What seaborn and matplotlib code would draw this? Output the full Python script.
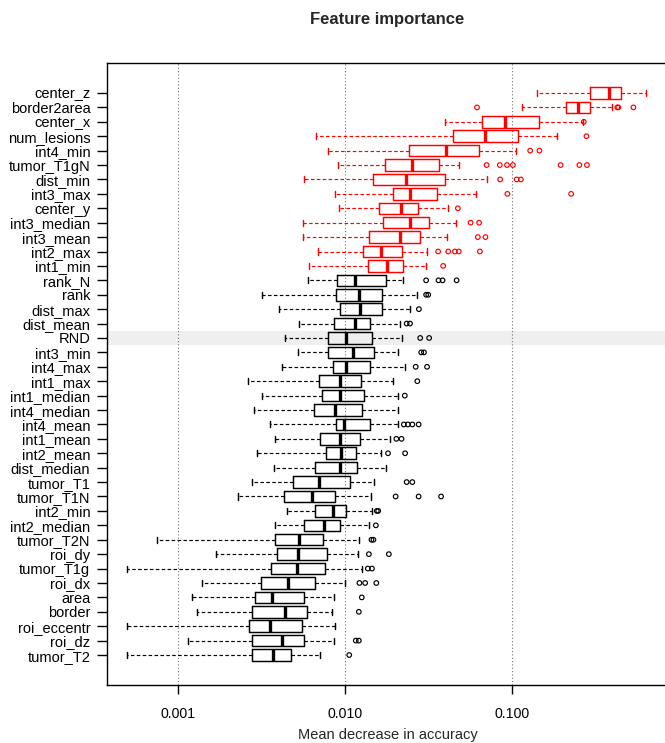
import numpy as np
import pandas as pd
import matplotlib
matplotlib.use("Agg")
import matplotlib.pyplot as plt
from matplotlib.ticker import NullLocator, FixedLocator, FixedFormatter
import seaborn as sns

# ---------------- data ----------------
features = ["center_z", "border2area", "center_x", "num_lesions", "int4_min",
            "tumor_T1gN", "dist_min", "int3_max", "center_y", "int3_median",
            "int3_mean", "int2_max", "int1_min", "rank_N", "rank", "dist_max",
            "dist_mean", "RND", "int3_min", "int4_max", "int1_max", "int1_median",
            "int4_median", "int4_mean", "int1_mean", "int2_mean", "dist_median",
            "tumor_T1", "tumor_T1N", "int2_min", "int2_median", "tumor_T2N",
            "roi_dy", "tumor_T1g", "roi_dx", "area", "border", "roi_eccentr",
            "roi_dz", "tumor_T2"]

n_important = 13  # first 13 features drawn in red

whisk_lo = [0.141, 0.115, 0.0396, 0.00673, 0.00796, 0.00911, 0.00568, 0.00870,
            0.00922, 0.00558, 0.00558, 0.00693, 0.00609, 0.00599, 0.00319, 0.00405,
            0.00527, 0.00435, 0.00524, 0.00422, 0.00262, 0.00317, 0.00284, 0.00358,
            0.00382, 0.00297, 0.00376, 0.00277, 0.00229, 0.00447, 0.00382, 0.000751,
            0.00170, 0.000494, 0.00139, 0.00122, 0.00130, 0.000494, 0.00115, 0.000494]

q1 = [0.294, 0.210, 0.0661, 0.0442, 0.0243, 0.0174, 0.0148, 0.0193, 0.0160, 0.0168,
      0.0139, 0.0128, 0.0138, 0.00895, 0.00885, 0.00938, 0.00865, 0.00796, 0.00796,
      0.00845, 0.00697, 0.00730, 0.00650, 0.00880, 0.00713, 0.00769, 0.00665,
      0.00491, 0.00430, 0.00665, 0.00568, 0.00380, 0.00389, 0.00361, 0.00312,
      0.00289, 0.00277, 0.00266, 0.00279, 0.00276]

median = [0.380, 0.248, 0.0911, 0.0689, 0.0403, 0.0253, 0.0232, 0.0245, 0.0216,
          0.0245, 0.0212, 0.0165, 0.0178, 0.0115, 0.0121, 0.0123, 0.0115, 0.0102,
          0.0112, 0.0102, 0.00927, 0.00927, 0.00870, 0.00988, 0.00927, 0.00943,
          0.00927, 0.00697, 0.00631, 0.00849, 0.00752, 0.00533, 0.00524, 0.00518,
          0.00458, 0.00365, 0.00437, 0.00358, 0.00422, 0.00369]

q3 = [0.447, 0.294, 0.146, 0.1085, 0.0635, 0.0365, 0.0396, 0.0354, 0.0273, 0.0319,
      0.0281, 0.0218, 0.0221, 0.0176, 0.0166, 0.0166, 0.0142, 0.0145, 0.0150, 0.0142,
      0.0125, 0.0130, 0.0126, 0.0142, 0.0123, 0.0117, 0.0118, 0.0107, 0.00870,
      0.0102, 0.00938, 0.00734, 0.00778, 0.00756, 0.00665, 0.00568, 0.00592,
      0.00555, 0.00572, 0.00474]

whisk_hi = [0.635, 0.396, 0.265, 0.187, 0.105, 0.0480, 0.0705, 0.0606, 0.0415,
            0.0461, 0.0410, 0.0310, 0.0306, 0.0222, 0.0268, 0.0245, 0.0212, 0.0220,
            0.0208, 0.0228, 0.0194, 0.0208, 0.0208, 0.0208, 0.0186, 0.0165, 0.0177,
            0.0150, 0.0144, 0.0145, 0.0140, 0.0121, 0.0119, 0.0126, 0.00994, 0.00860,
            0.00840, 0.00870, 0.00855, 0.00705]

outliers = [
    [],                                                    # center_z
    [0.0617, 0.427, 0.433, 0.533],                         # border2area
    [0.269],                                               # center_x
    [0.279],                                               # num_lesions
    [0.1285, 0.146],                                       # int4_min
    [0.0705, 0.0845, 0.0933, 0.1012, 0.1955, 0.253, 0.281],  # tumor_T1gN
    [0.0849, 0.1066, 0.1130],                              # dist_min
    [0.0938, 0.226],                                       # int3_max
    [0.0474],                                              # center_y
    [0.0565, 0.0635],                                      # int3_median
    [0.0624, 0.0693],                                      # int3_mean
    [0.0361, 0.0415, 0.0455, 0.0480, 0.0642],              # int2_max
    [0.0387],                                              # int1_min
    [0.0306, 0.0363, 0.0384, 0.0466],                      # rank_N
    [0.0306, 0.0315],                                      # rank
    [0.0277],                                              # dist_max
    [0.0234, 0.0245],                                      # dist_mean
    [0.0282, 0.0319],                                      # RND
    [0.0286, 0.0297],                                      # int3_min
    [0.0265, 0.0310],                                      # int4_max
    [0.0271],                                              # int1_max
    [0.0228],                                              # int1_median
    [],                                                    # int4_median
    [0.0225, 0.0238, 0.0253, 0.0276],                      # int4_mean
    [0.0203, 0.0218],                                      # int1_mean
    [0.0181, 0.0229],                                      # int2_mean
    [],                                                    # dist_median
    [0.0234, 0.0253],                                      # tumor_T1
    [0.0201, 0.0276, 0.0376],                              # tumor_T1N
    [0.0155, 0.0158],                                      # int2_min
    [0.0153],                                              # int2_median
    [0.0144, 0.0148],                                      # tumor_T2N
    [0.0139, 0.0183],                                      # roi_dy
    [0.0137, 0.0145],                                      # tumor_T1g
    [0.0122, 0.0132, 0.0154],                              # roi_dx
    [0.0126],                                              # area
    [0.0121],                                              # border
    [],                                                    # roi_eccentr
    [0.0116, 0.0121],                                      # roi_dz
    [0.0106],                                              # tumor_T2
]

x_ticks = [0.001, 0.01, 0.1]
x_tick_labels = ["0.001", "0.010", "0.100"]
highlight = "RND"

# ---------------- tidy tables ----------------
groups = ["top" if i < n_important else "rest" for i in range(len(features))]
box_rows = []
for i, f in enumerate(features):
    for v in (whisk_lo[i], q1[i], median[i], q3[i], whisk_hi[i]):
        box_rows.append({"feature": f, "value": v, "group": groups[i]})
box_df = pd.DataFrame(box_rows)

out_rows = []
for i, f in enumerate(features):
    for v in outliers[i]:
        out_rows.append({"feature": f, "value": v, "group": groups[i]})
out_df = pd.DataFrame(out_rows)

palette = {"top": "#ff0000", "rest": "#000000"}

# ---------------- style ----------------
sns.set_style("ticks")
plt.rcParams["font.family"] = ["Liberation Sans", "DejaVu Sans"]
plt.rcParams["axes.linewidth"] = 1.0
plt.rcParams["axes.edgecolor"] = "black"

W, H = 665, 743
fig = plt.figure(figsize=(W / 100, H / 100), dpi=100)
ax = fig.add_axes([107 / W, 58 / H, (669 - 107) / W, 622 / H])
ax.set_xscale("log")

# highlight band for the random feature
ri = features.index(highlight)
ax.axhspan(ri - 0.5, ri + 0.5, color="#efefef", zorder=0, lw=0)

sns.boxplot(
    data=box_df, x="value", y="feature", order=features,
    hue="group", hue_order=["top", "rest"], palette=palette,
    fill=False, whis=(0, 100), showfliers=False, width=0.8,
    linewidth=1.05, legend=False, capwidths=0.42,
    whiskerprops=dict(linestyle=(0, (3, 2)), linewidth=0.85),
    capprops=dict(linewidth=1.05),
    medianprops=dict(linewidth=2.4),
    ax=ax,
)

n_before = len(ax.collections)
sns.stripplot(
    data=out_df, x="value", y="feature", order=features,
    hue="group", hue_order=["top", "rest"], palette=palette,
    jitter=False, dodge=False, size=3.3, marker="o", legend=False, ax=ax,
)
for coll in ax.collections[n_before:]:
    fc = coll.get_facecolors()
    coll.set_edgecolors(fc)
    coll.set_facecolors("none")
    coll.set_linewidths(0.85)
    coll.set_zorder(3)

# ---------------- axes cosmetics ----------------
ax.set_xlim(10 ** -3.4251, 10 ** -0.06)
ax.set_ylim(len(features) - 1 + 2.08, -2.08)
ax.xaxis.set_major_locator(FixedLocator(x_ticks))
ax.xaxis.set_major_formatter(FixedFormatter(x_tick_labels))
ax.xaxis.set_minor_locator(NullLocator())
ax.set_axisbelow(True)
ax.xaxis.grid(True, which="major", linestyle=(0, (1, 2)), color="0.45", linewidth=0.8)
ax.yaxis.grid(False)
ax.set_xlabel("")
ax.set_ylabel("")
for s in ax.spines.values():
    s.set_visible(True)
    s.set_linewidth(1.0)
    s.set_color("black")

ax.tick_params(axis="y", length=7, width=1.0, pad=5, labelsize=10.5, colors="black")
ax.tick_params(axis="x", length=6.5, width=1.0, pad=9, labelsize=10.2, colors="black")

fig.text(387.5 / W, 1 - 24.3 / H, "Feature importance", ha="center", va="baseline",
         fontsize=12, fontweight="bold")
fig.text(388 / W, 1 - 739.3 / H, "Mean decrease in accuracy", ha="center",
         va="baseline", fontsize=10.5)

fig.savefig("out.png", dpi=100)
